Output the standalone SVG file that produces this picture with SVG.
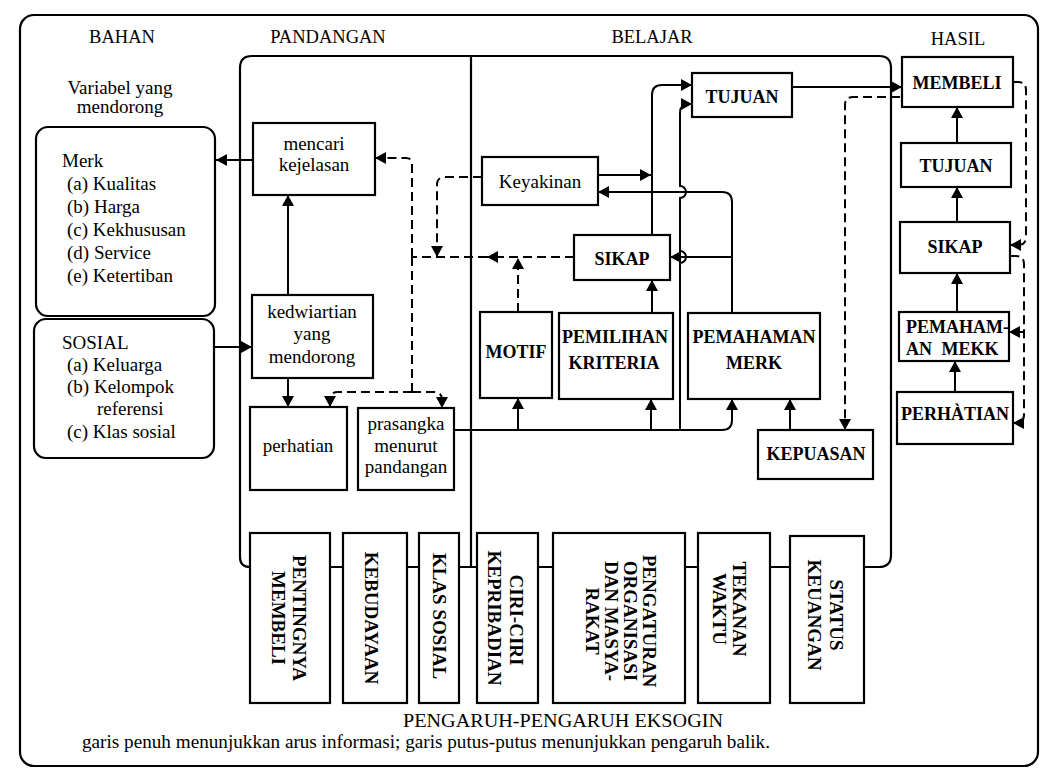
<svg xmlns="http://www.w3.org/2000/svg" width="1043" height="771" viewBox="0 0 1043 771">
<style>
.bx{fill:#fff;stroke:#000;stroke-width:2.2}
.fr{fill:none;stroke:#000;stroke-width:2.2}
.ln{fill:none;stroke:#000;stroke-width:2}
.dl{fill:none;stroke:#000;stroke-width:2;stroke-dasharray:9 5}
text{font-family:"Liberation Serif","Times New Roman",serif;font-size:19px;fill:#000}
.h{font-size:18.5px;text-anchor:middle}
.b{font-weight:bold;font-size:18px}
.c{text-anchor:middle}
.x{font-weight:bold;font-size:19px;text-anchor:middle}
</style>
<defs>
<marker id="ah" markerWidth="12" markerHeight="12" refX="11" refY="6" orient="auto" markerUnits="userSpaceOnUse">
<path d="M0,0 L11,6 L0,12 Z" fill="#000"/>
</marker>
</defs>
<rect width="1043" height="771" fill="#fff"/>

<g id="frame">
<rect class="fr" x="20" y="15" width="1018" height="751" rx="14"/>
<path class="fr" d="M250,567 Q240,567 240,557 L240,68 Q240,56 252,56 L879,56 Q891,56 891,68 L891,555 Q891,567 879,567 L864,567"/>
<path class="fr" d="M471,56 L471,567 M330,567 L343,567 M407,567 L419,567 M459,567 L477,567 M538,567 L553,567 M685,567 L698,567 M770,567 L790,567"/>
</g>

<g id="headers">
<text class="h" x="122" y="43">BAHAN</text>
<text class="h" x="328" y="43">PANDANGAN</text>
<text class="h" x="652" y="43">BELAJAR</text>
<text class="h" x="958" y="45">HASIL</text>
<text class="c" x="120" y="94">Variabel yang</text>
<text class="c" x="120" y="113">mendorong</text>
</g>

<g id="connectors">
<path class="ln" d="M253,160 L216,160" marker-end="url(#ah)"/>
<path class="ln" d="M214,347 L252,347" marker-end="url(#ah)"/>
<path class="ln" d="M288,295 L288,195" marker-end="url(#ah)"/>
<path class="ln" d="M288,378 L288,407" marker-end="url(#ah)"/>
<path class="ln" d="M454,430 L722,430 Q732,430 732,420 L732,399" marker-end="url(#ah)"/>
<path class="ln" d="M518,430 L518,398" marker-end="url(#ah)"/>
<path class="ln" d="M651,430 L651,399" marker-end="url(#ah)"/>
<path class="ln" d="M652,313 L652,280" marker-end="url(#ah)"/>
<path class="ln" d="M652,235 L652,95 Q652,85 662,85 L692,85" marker-end="url(#ah)"/>
<path class="ln" d="M598,175 L651,175" marker-end="url(#ah)"/>
<path class="ln" d="M680,430 L680,263 A6,6 0 0 0 680,251 L680,198 A6,6 0 0 0 680,186 L680,113 Q680,104 689,104 L692,104" marker-end="url(#ah)"/>
<path class="ln" d="M732,313 L732,202 Q732,192 722,192 L598,192" marker-end="url(#ah)"/>
<path class="ln" d="M732,257 L670,257" marker-end="url(#ah)"/>
<path class="ln" d="M792,87 L902,87" marker-end="url(#ah)"/>
<path class="ln" d="M957,143 L957,107" marker-end="url(#ah)"/>
<path class="ln" d="M957,222 L957,187" marker-end="url(#ah)"/>
<path class="ln" d="M957,312 L957,273" marker-end="url(#ah)"/>
<path class="ln" d="M955,392 L955,361" marker-end="url(#ah)"/>
<path class="ln" d="M790,430 L790,399" marker-end="url(#ah)"/>

<path class="dl" d="M574,257 L487,257" marker-end="url(#ah)"/>
<path class="dl" d="M487,257 L412,257"/>
<path class="dl" d="M412,257 L412,164 Q412,158 406,158 L375,158" marker-end="url(#ah)"/>
<path class="dl" d="M412,257 L412,392"/>
<path class="dl" d="M412,392 L338,392 Q330,392 330,400 L330,407" marker-end="url(#ah)"/>
<path class="dl" d="M412,392 L434,392 Q442,392 442,400 L442,408" marker-end="url(#ah)"/>
<path class="dl" d="M482,177 L445,177 Q437,177 437,185 L437,257" marker-end="url(#ah)"/>
<path class="dl" d="M518,312 L518,258" marker-end="url(#ah)"/>
<path class="dl" d="M900,97 L853,97 Q845,97 845,105 L845,430" marker-end="url(#ah)"/>
<path class="dl" d="M1013,82 L1018,82 Q1026,82 1026,90 L1026,237 Q1026,245 1018,245 L1010,245" marker-end="url(#ah)"/>
<path class="dl" d="M1010,256 L1016,256 Q1024,256 1024,264 L1024,415 Q1024,423 1016,423 L1013,423" marker-end="url(#ah)"/>
<path class="dl" d="M1024,332 L1009,332" marker-end="url(#ah)"/>
</g>

<g id="merk">
<rect class="bx" x="36" y="127" width="179" height="189" rx="12"/>
<text x="62" y="167">Merk</text>
<text x="67" y="190">(a) Kualitas</text>
<text x="67" y="213">(b) Harga</text>
<text x="67" y="236">(c) Kekhususan</text>
<text x="67" y="259">(d) Service</text>
<text x="67" y="282">(e) Ketertiban</text>
</g>
<g id="sosial">
<rect class="bx" x="34" y="319" width="180" height="139" rx="12"/>
<text x="62" y="349">SOSIAL</text>
<text x="67" y="371">(a) Keluarga</text>
<text x="67" y="393">(b) Kelompok</text>
<text x="97" y="415">referensi</text>
<text x="67" y="438">(c) Klas sosial</text>
</g>

<g id="mencari">
<rect class="bx" x="253" y="123" width="122" height="72"/>
<text class="c" x="314" y="150">mencari</text>
<text class="c" x="314" y="171">kejelasan</text>
</g>
<g id="kedwiartian">
<rect class="bx" x="252" y="295" width="121" height="83"/>
<text class="c" x="312" y="318">kedwiartian</text>
<text class="c" x="312" y="340">yang</text>
<text class="c" x="312" y="363">mendorong</text>
</g>
<g id="perhatian">
<rect class="bx" x="250" y="407" width="97" height="83"/>
<text class="c" x="298" y="452">perhatian</text>
</g>
<g id="prasangka">
<rect class="bx" x="358" y="408" width="96" height="82"/>
<text class="c" x="406" y="430">prasangka</text>
<text class="c" x="406" y="452">menurut</text>
<text class="c" x="406" y="473">pandangan</text>
</g>

<g id="keyakinan">
<rect class="bx" x="482" y="157" width="116" height="48"/>
<text class="c" x="540" y="188">Keyakinan</text>
</g>
<g id="tujuan-belajar">
<rect class="bx" x="692" y="73" width="100" height="44"/>
<text class="c b" x="742" y="103">TUJUAN</text>
</g>
<g id="sikap-belajar">
<rect class="bx" x="574" y="235" width="96" height="45"/>
<text class="c b" x="622" y="265">SIKAP</text>
</g>
<g id="motif">
<rect class="bx" x="480" y="312" width="72" height="86"/>
<text class="c b" x="516" y="358">MOTIF</text>
</g>
<g id="pemilihan">
<rect class="bx" x="559" y="313" width="114" height="86"/>
<text class="c b" x="615" y="343">PEMILIHAN</text>
<text class="c b" x="614" y="369">KRITERIA</text>
</g>
<g id="pemahaman-merk">
<rect class="bx" x="688" y="313" width="132" height="86"/>
<text class="c b" x="754" y="343">PEMAHAMAN</text>
<text class="c b" x="754" y="369">MERK</text>
</g>
<g id="kepuasan">
<rect class="bx" x="758" y="430" width="115" height="49"/>
<text class="c b" x="816" y="460">KEPUASAN</text>
</g>

<g id="membeli">
<rect class="bx" x="902" y="57" width="111" height="50"/>
<text class="c b" x="957" y="89">MEMBELI</text>
</g>
<g id="tujuan-hasil">
<rect class="bx" x="901" y="143" width="110" height="44"/>
<text class="c b" x="956" y="172">TUJUAN</text>
</g>
<g id="sikap-hasil">
<rect class="bx" x="900" y="222" width="110" height="51"/>
<text class="c b" x="955" y="253">SIKAP</text>
</g>
<g id="pemahaman-mekk">
<rect class="bx" x="899" y="312" width="110" height="49"/>
<text class="b" x="906" y="333">PEMAHAM-</text>
<text class="b" x="906" y="355">AN <tspan dx="5">MEKK</tspan></text>
</g>
<g id="perhatian-hasil">
<rect class="bx" x="897" y="392" width="116" height="52"/>
<text class="b" x="901" y="420">PERHÀTIAN</text>
</g>

<g id="pentingnya">
<rect class="bx" x="250" y="533" width="80" height="170"/>
<text class="x" transform="translate(293,618) rotate(90)">PENTINGNYA</text>
<text class="x" transform="translate(272,618) rotate(90)">MEMBELI</text>
</g>
<g id="kebudayaan">
<rect class="bx" x="343" y="533" width="64" height="170"/>
<text class="x" transform="translate(365,618) rotate(90)">KEBUDAYAAN</text>
</g>
<g id="klas-sosial">
<rect class="bx" x="419" y="533" width="40" height="170"/>
<text class="x" transform="translate(433,616) rotate(90)">KLAS SOSIAL</text>
</g>
<g id="ciri-ciri">
<rect class="bx" x="477" y="533" width="61" height="170"/>
<text class="x" transform="translate(510,620) rotate(90)">CIRI-CIRI</text>
<text class="x" transform="translate(488,618) rotate(90)">KEPRIBADIAN</text>
</g>
<g id="pengaturan">
<rect class="bx" x="553" y="533" width="132" height="170"/>
<text class="x" transform="translate(643,621) rotate(90)">PENGATURAN</text>
<text class="x" transform="translate(624,621) rotate(90)">ORGANISASI</text>
<text class="x" transform="translate(605,621) rotate(90)">DAN MASYA-</text>
<text class="x" transform="translate(586,621) rotate(90)">RAKAT</text>
</g>
<g id="tekanan">
<rect class="bx" x="698" y="533" width="72" height="170"/>
<text class="x" transform="translate(733,609) rotate(90)">TEKANAN</text>
<text class="x" transform="translate(713,609) rotate(90)">WAKTU</text>
</g>
<g id="status">
<rect class="bx" x="790" y="536" width="74" height="167"/>
<text class="x" transform="translate(830,615) rotate(90)">STATUS</text>
<text class="x" transform="translate(808,615) rotate(90)">KEUANGAN</text>
</g>

<g id="footer">
<text x="403" y="727" font-size="19" textLength="320" lengthAdjust="spacingAndGlyphs">PENGARUH-PENGARUH EKSOGIN</text>
<text x="82" y="748" font-size="16" textLength="688" lengthAdjust="spacingAndGlyphs">garis penuh menunjukkan arus informasi;  garis putus-putus menunjukkan pengaruh balik.</text>
</g>
</svg>
